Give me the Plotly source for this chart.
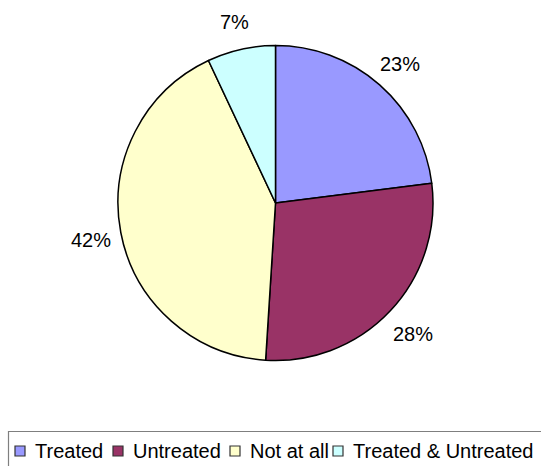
import math
import plotly.graph_objects as go

# Share of cases by treatment status
categories = ["Treated", "Untreated", "Not at all", "Treated & Untreated"]
shares = [23, 28, 42, 7]
colors = ["#9999FF", "#993366", "#FFFFCC", "#CCFFFF"]

W, H = 541, 466
FONT = "Arial, 'Liberation Sans', sans-serif"

# pie placement in pixels
cx, cy, r = 275.5, 203.0, 157.5
label_r = 188.0
label_dy = 2.0  # text boxes include descenders, so drop them slightly

fig = go.Figure(
    go.Pie(
        labels=categories,
        values=shares,
        sort=False,
        direction="clockwise",
        rotation=0,
        marker=dict(colors=colors, line=dict(color="#000000", width=1.5)),
        textinfo="none",
        hoverinfo="label+percent",
        showlegend=False,
        domain=dict(
            x=[(cx - r) / W, (cx + r) / W],
            y=[1 - (cy + r) / H, 1 - (cy - r) / H],
        ),
    )
)

# percentage labels outside each slice, at the slice's mid-angle
annotations = []
total = sum(shares)
cum = 0.0
for v in shares:
    mid = (cum + v / 2) / total * 2 * math.pi
    cum += v
    px = cx + label_r * math.sin(mid)
    py = cy - label_r * math.cos(mid) + label_dy
    annotations.append(
        dict(
            x=px / W, y=1 - py / H, xref="paper", yref="paper",
            text=f"{round(v / total * 100)}%", showarrow=False,
            xanchor="center", yanchor="middle",
            font=dict(family=FONT, size=20, color="#000000"),
        )
    )

# legend box along the bottom (runs off the right and bottom edges)
shapes = [
    dict(
        type="rect", xref="paper", yref="paper",
        x0=8.5 / W, x1=1.05, y0=-0.05, y1=1 - 431.5 / H,
        line=dict(color="#7F7F7F", width=1.2), fillcolor="rgba(0,0,0,0)",
        layer="above",
    )
]
legend_sym_x = [15, 113, 230, 333]
sym_size = 10
sym_top = 446
text_cy = 451
for name, col, sx in zip(categories, colors, legend_sym_x):
    shapes.append(
        dict(
            type="rect", xref="paper", yref="paper",
            x0=sx / W, x1=(sx + sym_size) / W,
            y0=1 - (sym_top + sym_size) / H, y1=1 - sym_top / H,
            line=dict(color="#333333", width=1.2), fillcolor=col,
            layer="above",
        )
    )
    annotations.append(
        dict(
            x=(sx + sym_size + 8) / W, y=1 - text_cy / H,
            xref="paper", yref="paper", text=name, showarrow=False,
            xanchor="left", yanchor="middle",
            font=dict(family=FONT, size=20, color="#000000"),
        )
    )

fig.update_layout(
    width=W,
    height=H,
    margin=dict(l=0, r=0, t=0, b=0),
    paper_bgcolor="#FFFFFF",
    plot_bgcolor="#FFFFFF",
    shapes=shapes,
    annotations=annotations,
    showlegend=False,
)

fig.write_html("out.html")
